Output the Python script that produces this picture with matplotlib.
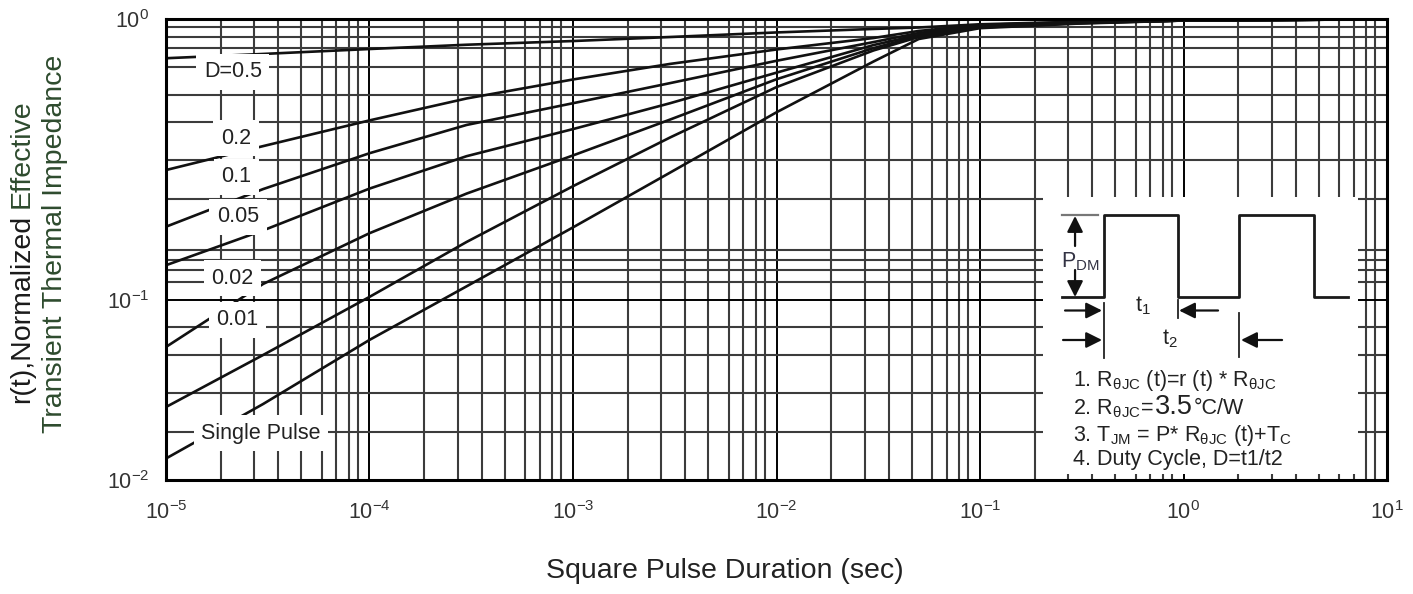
import numpy as np
import matplotlib.pyplot as plt
from matplotlib.ticker import NullFormatter

plt.rcParams['font.family'] = ['Liberation Sans', 'DejaVu Sans']
plt.rcParams['mathtext.fontset'] = 'custom'
plt.rcParams['mathtext.rm'] = 'Liberation Sans'
plt.rcParams['mathtext.it'] = 'Liberation Sans:italic'
plt.rcParams['mathtext.bf'] = 'Liberation Sans:bold'

# square pulse duration (sec)
t = [1e-5, 3e-5, 1e-4, 3e-4, 1e-3, 3e-3, 1e-2, 3e-2, 5e-2, 1e-1, 3e-1, 1e0, 1e1]

# normalized transient thermal impedance r(t)
r_d05 = [0.727, 0.753, 0.784, 0.812, 0.837, 0.865, 0.898, 0.924, 0.935, 0.960, 0.980, 0.990, 1.0]
r_d02 = [0.291, 0.354, 0.437, 0.523, 0.611, 0.694, 0.781, 0.858, 0.909, 0.955, 0.978, 0.990, 1.0]
r_d01 = [0.183, 0.249, 0.334, 0.421, 0.503, 0.593, 0.712, 0.830, 0.894, 0.950, 0.975, 0.990, 1.0]
r_d005 = [0.1335, 0.1775, 0.250, 0.326, 0.407, 0.503, 0.646, 0.810, 0.880, 0.945, 0.973, 0.990, 1.0]
r_d002 = [0.0552, 0.1145, 0.1735, 0.240, 0.328, 0.440, 0.612, 0.790, 0.872, 0.940, 0.970, 0.990, 1.0]
r_d001 = [0.0256, 0.0498, 0.103, 0.1615, 0.255, 0.380, 0.574, 0.775, 0.865, 0.935, 0.968, 0.990, 1.0]
r_single = [0.01325, 0.0266, 0.0604, 0.1123, 0.182, 0.285, 0.467, 0.708, 0.851, 0.930, 0.965, 0.990, 1.0]

curves = [r_d05, r_d02, r_d01, r_d005, r_d002, r_d001, r_single]
curve_labels = ['D=0.5', '0.2', '0.1', '0.05', '0.02', '0.01', 'Single Pulse']
label_t = [2.13e-5, 2.21e-5, 2.21e-5, 2.26e-5, 2.12e-5, 2.25e-5, 2.93e-5]
label_r = [0.651, 0.3775, 0.2757, 0.1986, 0.120, 0.078, 0.01828]

x_major = [1e-5, 1e-4, 1e-3, 1e-2, 1e-1, 1e0, 1e1]
y_major = [0.01, 0.1, 1.0]
y_major_labels = [r'$10^{-2}$', r'$10^{-1}$', r'$10^{0}$']

# grid of the original sheet (not an even log grid)
x_minor_mult = [1.86, 2.72, 3.56, 4.63, 5.83, 6.87, 7.91, 8.75]
y_minor = [0.941, 0.867, 0.789, 0.678, 0.538, 0.43, 0.316, 0.229,
           0.151, 0.139, 0.128, 0.1166, 0.0713, 0.0498, 0.0306, 0.01866]

# the upper decade of the y axis is drawn taller than the lower one
UP = 281.2 / 180.0


def fwd(y):
    L = np.log10(np.clip(np.asarray(y, float), 1e-12, None))
    return np.where(L < -1, L + 2, 1 + (L + 1) * UP)


def inv(s):
    s = np.asarray(s, float)
    return 10 ** np.where(s < 1, s - 2, (s - 1) / UP - 1)


fig = plt.figure(figsize=(14.13, 5.94), dpi=100)
ax = fig.add_axes([0.11748, 0.19108, 0.86412, 0.77643])

ax.set_xscale('log')
ax.set_yscale('function', functions=(fwd, inv))
ax.set_xlim(1e-5, 1e1)
ax.set_ylim(0.01, 1.0)

ax.set_xticks(x_major, labels=[r'$10^{%d}$' % round(np.log10(v)) for v in x_major])
ax.set_yticks(y_major, labels=y_major_labels)
ax.set_yticks(y_minor, minor=True)
ax.yaxis.set_minor_formatter(NullFormatter())
x_minor = [m * 10.0 ** e for e in range(-5, 1) for m in x_minor_mult]
ax.set_xticks(x_minor, minor=True)
ax.xaxis.set_minor_formatter(NullFormatter())

ax.tick_params(which='both', length=0, labelsize=15.5, labelcolor='#333333')
ax.tick_params(axis='x', pad=15)
ax.tick_params(axis='y', pad=12)

ax.set_axisbelow(True)
ax.grid(which='major', color='black', lw=1.4)
ax.grid(which='minor', color='#3c3c3c', lw=1.5)
for sp in ax.spines.values():
    sp.set_linewidth(2.2)
    sp.set_color('black')

for r in curves:
    ax.plot(t, r, color='#111111', lw=1.9, solid_capstyle='butt')

for lab, lt, lr in zip(curve_labels, label_t, label_r):
    ax.text(lt, lr, lab, fontsize=15.5, color='#222222', ha='center', va='center',
            zorder=4, bbox=dict(boxstyle='square,pad=0.35', fc='white', ec='none'))

# axis titles
fig.text(725 / 1413, 1 - 571 / 594, 'Square Pulse Duration (sec)', fontsize=20.5,
         color='#222222', ha='center', va='center')
yl1 = fig.text(22 / 1413, 1 - 403 / 594, 'r(t),Normalized', fontsize=20.5, color='#1a1a1a',
               rotation=90, ha='center', va='bottom')
fig.text(55 / 1413, 1 - 243.5 / 594, 'Transient Thermal Impedance', fontsize=20.5,
         color='#2e4b2e', rotation=90, ha='center', va='center')

# inset with the pulse sketch and notes, in pixel-like coordinates
ins = ax.inset_axes([0.7183, 0.0141, 0.258, 0.6006])
ins.set_xlim(1043, 1358)
ins.set_ylim(474, 197)
ins.set_xticks([])
ins.set_yticks([])
for sp in ins.spines.values():
    sp.set_visible(False)
ins.set_facecolor('white')

pulse_x = [1062, 1104, 1104, 1178, 1178, 1239, 1239, 1314, 1314, 1348]
pulse_y = [297, 297, 215, 215, 297, 297, 215, 215, 297, 297]
ins.plot(pulse_x, pulse_y, color='#1a1a1a', lw=2.0)
ins.plot([1062, 1098], [215, 215], color='#777777', lw=1.6)
ins.plot([1104, 1104], [303, 358], color='#222222', lw=1.3)
ins.plot([1178, 1178], [300, 318], color='#222222', lw=1.3)
ins.plot([1239, 1239], [313, 357], color='#222222', lw=1.3)


def arrow(tail, tip):
    ins.annotate('', xy=tip, xytext=tail,
                 arrowprops=dict(arrowstyle='-|>', color='#111111', lw=1.6,
                                 mutation_scale=24, shrinkA=0, shrinkB=0))


arrow((1075, 246), (1075, 216))
arrow((1075, 270), (1075, 297))
arrow((1065, 310.5), (1102, 310.5))
arrow((1218, 310.5), (1179, 310.5))
arrow((1063, 340), (1102, 340))
arrow((1282, 340), (1241, 340))

ins.text(1061, 262, r'P$_{\mathrm{DM}}$', fontsize=15.5, color='#333344', va='center')
ins.text(1135, 306, r't$_{1}$', fontsize=15.5, color='#222222', va='center')
ins.text(1162, 339, r't$_{2}$', fontsize=15.5, color='#222222', va='center')

nfs = 15.5
ins.text(1073, 386, '1. R$_{\\mathrm{θJC}}$ (t)=r (t) * R$_{\\mathrm{θJC}}$', fontsize=nfs,
         color='#222222', va='baseline')
n2a = ins.text(1073, 414.5, '2. R$_{\\mathrm{θJC}}$=', fontsize=nfs, color='#222222', va='baseline')
ins.text(1073, 441.5, '3. T$_{\\mathrm{JM}}$ = P* R$_{\\mathrm{θJC}}$ (t)+T$_{\\mathrm{C}}$',
         fontsize=nfs, color='#222222', va='baseline')
ins.text(1073, 465, '4. Duty Cycle, D=t1/t2', fontsize=nfs, color='#222222', va='baseline')

# pieces placed after measuring what is already drawn
fig.canvas.draw()
x_end = ins.transData.inverted().transform((n2a.get_window_extent().x1, 0))[0]
n2b = ins.text(x_end + 1, 414.5, '3.5', fontsize=19.5, color='#222222', va='baseline')
bb = yl1.get_window_extent()
fig.text((bb.x0 + bb.x1) / 2 / fig.bbox.width, (bb.y1 + 7) / fig.bbox.height, 'Effective',
         fontsize=20.5, color='#2e4b2e', rotation=90, ha='center', va='bottom')
fig.canvas.draw()
x_end = ins.transData.inverted().transform((n2b.get_window_extent().x1, 0))[0]
ins.text(x_end + 1, 414.5, '°C/W', fontsize=nfs, color='#222222', va='baseline')

fig.savefig('out.png', dpi=100)
